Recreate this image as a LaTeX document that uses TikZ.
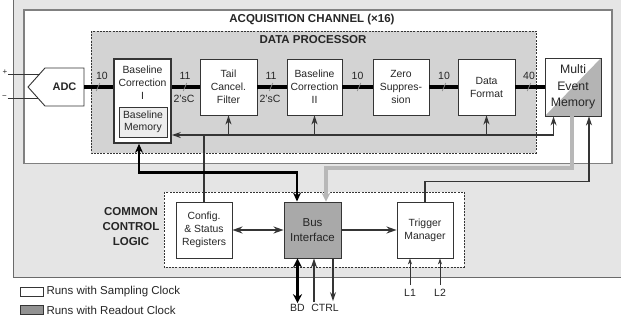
\documentclass[tikz,border=0pt]{standalone}
\usepackage{fontspec}
\setmainfont{Liberation Sans}
\usetikzlibrary{arrows.meta,calc}
\definecolor{outerbg}{HTML}{E5E5E5}
\definecolor{outerln}{HTML}{6A6A6A}
\definecolor{dpfill}{HTML}{D3D3D3}
\definecolor{blkc}{HTML}{353535}
\definecolor{txt}{HTML}{262626}
\definecolor{memfill}{HTML}{EDEDED}
\definecolor{busgray}{HTML}{A9A9A9}
\definecolor{memgray}{HTML}{B4B4B4}
\definecolor{graybus}{HTML}{B8B8B8}
\definecolor{leggray}{HTML}{929292}
\definecolor{tickc}{HTML}{8A8A8A}
\begin{document}
\begin{tikzpicture}[x=1pt,y=-1pt,
  blk/.style={draw=blkc, line width=0.9pt, fill=white, inner sep=0pt, align=center,
    font=\fontsize{10.4}{13}\selectfont, text=txt},
  txtonly/.style={inner sep=0pt, align=center, font=\fontsize{10.4}{13}\selectfont, text=txt},
  ttl/.style={font=\fontsize{11.5}{15}\selectfont\bfseries, text=txt, align=center, inner sep=0pt},
  lbl/.style={font=\fontsize{10.5}{12}\selectfont, text=txt, inner sep=1pt},
  bus/.style={line width=4pt, draw=black},
  ctl/.style={line width=1.1pt, draw=blkc},
  arr/.style={-{Stealth[length=9pt,width=6pt]}},
  darr/.style={{Stealth[length=10pt,width=7pt]}-{Stealth[length=10pt,width=7pt]}},
  tbarr/.style={line width=2.8pt, draw=black, {Stealth[length=9pt,width=8pt]}-{Stealth[length=9pt,width=8pt]}},
  dashbox/.style={draw=blkc, line width=0.6pt, dash pattern=on 2pt off 1.2pt}
]
\useasboundingbox (0,0) rectangle (621,322);
\clip (0,0) rectangle (621,322);
\fill[white] (0,0) rectangle (621,322);

% outer common area
\draw[fill=outerbg, draw=outerln, line width=1pt] (13,-5) rectangle (630,277);
% acquisition channel
\draw[fill=white, draw=outerln!85, line width=1.1pt] (24,10) rectangle (612,163.5);
\node[ttl] (acqt) at (312,20) {ACQUISITION CHANNEL (×16)};
% data processor
\draw[dashbox, fill=dpfill] (91,31) rectangle (536,153);
\node[ttl] (dpt) at (313,40) {DATA PROCESSOR};
% common control logic
\draw[dashbox, fill=white] (164,192) rectangle (464,267);
\node[ttl] (ccl) at (131,227) {COMMON\\CONTROL\\LOGIC};

% ADC
\draw[draw=blkc, line width=0.9pt, fill=white] (28,87) -- (45,68) -- (84,68) -- (84,106) -- (45,106) -- cycle;
\node[font=\fontsize{11}{13}\selectfont\bfseries, text=txt] (adc) at (64.5,87) {ADC};
\coordinate (adcout) at (84,87);
\node[font=\fontsize{8}{9}\selectfont, text=txt, inner sep=0.5pt] (plus) at (5,72.5) {+};
\node[font=\fontsize{8}{9}\selectfont, text=txt, inner sep=0.5pt] (minus) at (4.5,97.5) {−};
\coordinate (inp) at (39.6,74);
\coordinate (inm) at (37.8,98);
\draw[line width=0.7pt, draw=blkc] (plus.east |- inp) -- (inp);
\draw[line width=0.7pt, draw=blkc] (minus.east |- inm) -- (inm);

% processing blocks
\node[blk, line width=1.6pt, minimum width=57pt, minimum height=84pt] (bc1) at (142.5,101) {};
\node[txtonly] (bc1t) at (142.5,83) {Baseline\\Correction\\I};
\node[blk, fill=memfill, line width=0.8pt, minimum width=48pt, minimum height=30pt,
  font=\fontsize{10.4}{12}\selectfont] (bmem) at (143,122) {Baseline\\Memory};
\node[blk, minimum width=57pt, minimum height=56pt] (tcf) at (228.5,87) {Tail\\Cancel.\\Filter};
\node[blk, minimum width=55pt, minimum height=56pt] (bc2) at (314.5,87) {Baseline\\Correction\\II};
\node[blk, minimum width=56pt, minimum height=56pt] (zs) at (401,87) {Zero\\Suppres-\\sion};
\node[blk, minimum width=57pt, minimum height=56pt] (df) at (486.5,87) {Data\\Format};
\node[blk, minimum width=56pt, minimum height=58pt, font=\fontsize{12.3}{16.5}\selectfont,
  path picture={\fill[memgray] (path picture bounding box.south west) -- (path picture bounding box.south east) -- (path picture bounding box.north east) -- cycle;}]
  (mem) at (573,87) {Multi\\Event\\Memory};

% control blocks
\node[blk, minimum width=56pt, minimum height=56pt] (cfg) at (204,230) {Config.\\\& Status\\Registers};
\node[blk, fill=busgray, minimum width=57pt, minimum height=56pt, font=\fontsize{11.5}{15}\selectfont] (bus) at (312.5,230) {Bus\\Interface};
\node[blk, minimum width=56pt, minimum height=56pt] (trg) at (425,230) {Trigger\\Manager};

% data buses
\draw[bus] (adcout) -- (adcout -| bc1.west);
\draw[bus] (tcf.west -| bc1.east) -- (tcf.west);
\draw[bus] (tcf.east) -- (bc2.west);
\draw[bus] (bc2.east) -- (zs.west);
\draw[bus] (zs.east) -- (df.west);
\draw[bus] (df.east) -- (mem.west);
\foreach \x in {98,185,271,359,444,529}
  \draw[tickc, line width=0.7pt] (\x-1.8,91) -- (\x+1.8,83);
\node[lbl] (w1) at (102,76) {10};
\node[lbl] (w2) at (185,76) {11};
\node[lbl] (w2c) at (184,99) {2'sC};
\node[lbl] (w3) at (271,76) {11};
\node[lbl] (w3c) at (270,99) {2'sC};
\node[lbl] (w4) at (357.5,76) {10};
\node[lbl] (w5) at (444,76) {10};
\node[lbl] (w6) at (529,76) {40};

% control feedback line
\coordinate (fbj) at (cfg.north |- 0,135);
\coordinate (memin) at ($(mem.south west)+(9,0)$);
\draw[ctl] (cfg.north) -- (fbj);
\draw[ctl,arr] (fbj) -- (fbj -| bc1.east);
\draw[ctl,arr] (fbj) -| (memin);
\draw[ctl,arr] (tcf.south |- fbj) -- (tcf.south);
\draw[ctl,arr] (bc2.south |- fbj) -- (bc2.south);
\draw[ctl,arr] (df.south |- fbj) -- (df.south);

% baseline memory <-> bus interface
\coordinate (bmo) at ($(bc1.south)+(-3.5,0)$);
\coordinate (bbi) at ($(bus.north)+(-15.5,0)$);
\draw[tbarr] (bmo) -- ++(0,29) -| (bbi);
% multi event memory -> bus interface (gray)
\coordinate (mmo) at ($(mem.south)+(-1,0)$);
\coordinate (gbi) at ($(bus.north)+(13.5,0)$);
\draw[line width=4pt, draw=graybus, -{Stealth[length=9pt,width=9pt]}] (mmo) -- ++(0,52) -| (gbi);
% trigger manager -> multi event memory
\coordinate (tmi) at ($(mem.south)+(16,0)$);
\draw[ctl, arr] (trg.north) -- ++(0,-20) -| (tmi);

% control logic links
\draw[line width=1.5pt, draw=blkc, darr] (cfg.east) -- (bus.west);
\draw[line width=1.5pt, draw=blkc, -{Stealth[length=10pt,width=7pt]}] (bus.east) -- (trg.west);

% external signals
\node[lbl, inner sep=4pt] (l1) at (410,293) {L1};
\node[lbl, inner sep=4pt] (l2) at (440,293) {L2};
\draw[line width=0.8pt, draw=blkc, -{Stealth[length=6pt,width=4pt]}] (l1.north) -- (l1.north |- trg.south);
\draw[line width=0.8pt, draw=blkc, -{Stealth[length=6pt,width=4pt]}] (l2.north) -- (l2.north |- trg.south);
\node[lbl] (bd) at (297.5,308) {BD};
\node[lbl] (ctrl) at (325,308) {CTRL};
\draw[line width=3.5pt, draw=black, {Stealth[length=9pt,width=9pt]}-{Stealth[length=9pt,width=9pt]}] (bus.south -| bd.north) -- (bd.north);
\coordinate (cu) at ($(ctrl.north)+(-11,-1)$);
\coordinate (cd) at ($(ctrl.north)+(8,-2)$);
\draw[line width=1.5pt, draw=blkc, arr] (cu) -- (cu |- bus.south);
\draw[line width=1.5pt, draw=blkc, arr] (cd |- bus.south) -- (cd);

% legend
\node[draw=blkc, fill=white, line width=0.7pt, minimum width=23pt, minimum height=9pt, inner sep=0pt] (lg1) at (31.5,291.5) {};
\node[font=\fontsize{11.5}{13}\selectfont, text=txt, anchor=west, inner sep=3pt] (lg1t) at (lg1.east) {Runs with Sampling Clock};
\node[draw=blkc, fill=leggray, line width=0.7pt, minimum width=23pt, minimum height=9pt, inner sep=0pt] (lg2) at (31.5,310) {};
\node[font=\fontsize{11.5}{13}\selectfont, text=txt, anchor=west, inner sep=3pt] (lg2t) at (lg2.east) {Runs with Readout Clock};
\end{tikzpicture}
\end{document}
